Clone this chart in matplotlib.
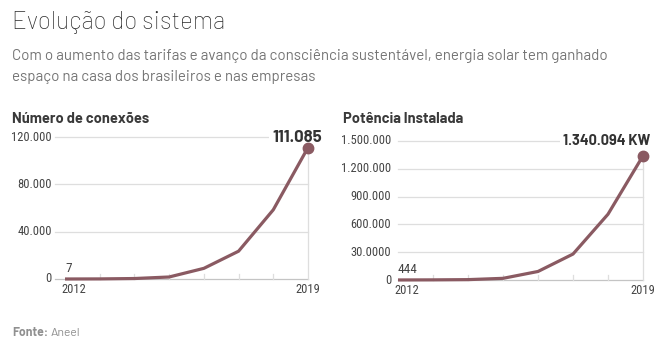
import matplotlib
matplotlib.use("Agg")
import matplotlib.pyplot as plt

years = [2012, 2013, 2014, 2015, 2016, 2017, 2018, 2019]
conexoes = [7, 80, 400, 1700, 9000, 23500, 58500, 111085]
potencia = [444, 1500, 4000, 18000, 92000, 280000, 710000, 1340094]

left_ticks = [0, 40000, 80000, 120000]
left_ticklabels = ["0", "40.000", "80.000", "120.000"]
right_ticks = [0, 300000, 600000, 900000, 1200000, 1500000]
right_ticklabels = ["0", "30.0000", "600.000", "900.000", "1.200.000", "1.500.000"]

COND = ["Roboto Condensed", "DejaVu Sans"]
MAIN = ["Barlow", "Roboto", "DejaVu Sans"]
BOLD = ["Barlow", "Roboto", "DejaVu Sans"]
plt.rcParams['font.family'] = COND

W, H = 668, 347
fig = plt.figure(figsize=(W / 100, H / 100), dpi=100)
fig.patch.set_facecolor("white")

def P(x, y):
    return x / W, 1 - y / H

LINE = "#8a5a62"
GRID = "#dedede"
TXT = "#444444"

fig.text(*P(12, 29), "Evolução do sistema", fontsize=17.5, color="#2b2b2b",
         va="baseline", ha="left", fontweight="light", family=MAIN)
fig.text(*P(12, 60), "Com o aumento das tarifas e avanço da consciência sustentável, energia solar tem ganhado",
         fontsize=10.85, color="#747474", va="baseline", ha="left", family=MAIN)
fig.text(*P(12, 81), "espaço na casa dos brasileiros e nas empresas",
         fontsize=10.85, color="#747474", va="baseline", ha="left", family=MAIN)

fig.text(*P(12, 123), "Número de conexões", fontsize=10.5, color="#3a3a3a",
         fontweight="bold", va="baseline", ha="left", family=BOLD)
fig.text(*P(343, 123), "Potência Instalada", fontsize=10.5, color="#3a3a3a",
         fontweight="bold", va="baseline", ha="left", family=BOLD)

fig.text(*P(12, 336), "Fonte:", fontsize=8.8, color="#909090",
         fontweight="bold", va="baseline", ha="left", family=BOLD)
fig.text(*P(51, 336), "Aneel", fontsize=8.8, color="#909090", va="baseline", ha="left",
         family=BOLD)


def panel(x0, x1, y0, y1, vals, ticks, ticklabels, ymax, first_label, last_label,
          grid_start, label_x, last_size, last_dx):
    l, b = P(x0, y0)
    r, t_ = P(x1, y1)
    ax = fig.add_axes([l, b, r - l, t_ - b])
    ax.set_xlim(years[0], years[-1])
    ax.set_ylim(0, ymax)
    ax.axis("off")
    for tk, lab in zip(ticks, ticklabels):
        ax.plot([grid_start, years[-1]], [tk, tk], color=GRID if tk else "#c4c4c4",
                lw=0.9, clip_on=False, zorder=1)
        ax.text(label_x, tk, lab, fontsize=9, color=TXT, ha="right",
                va="center", clip_on=False)
    tick_h = ymax * 0.035
    for yr in years[1:-1]:
        ax.plot([yr, yr], [0, tick_h], color=GRID, lw=0.9, clip_on=False, zorder=1)
    ax.plot([years[-1], years[-1]], [0, vals[-1]], color=GRID, lw=0.9, clip_on=False, zorder=1)
    ax.plot(years, vals, color=LINE, lw=2.3, clip_on=False, zorder=3, solid_capstyle="butt")
    ax.text(years[-1] + last_dx, ymax * 1.0, last_label, fontsize=last_size, color="#333333",
            fontweight="bold", ha="right", va="center", clip_on=False, zorder=4,
            family=BOLD, bbox=dict(facecolor="white", edgecolor="none", pad=2))
    ax.plot([years[-1]], [vals[-1]], "o", color=LINE, ms=7.5, clip_on=False, zorder=6)
    ax.text(years[0], vals[0] + ymax * 0.025, first_label, fontsize=9.5, color=TXT,
            ha="left", va="bottom", clip_on=False)
    ax.text(years[0] - 0.1, -ymax * 0.075, str(years[0]), fontsize=9, color=TXT,
            ha="left", va="center", clip_on=False)
    ax.text(years[-1], -ymax * 0.075, str(years[-1]), fontsize=9, color=TXT,
            ha="center", va="center", clip_on=False)
    return ax


panel(65, 308, 279, 137, conexoes, left_ticks, left_ticklabels, 120000,
      f"{conexoes[0]}", "111.085", 2011.7, 2011.62, 12.0, 0.4)
panel(398, 643, 280, 141, potencia, right_ticks, right_ticklabels, 1500000,
      f"{potencia[0]}", "1.340.094 KW", 2012.0, 2011.8, 10.5, 0.2)

fig.savefig("out.png", dpi=100, facecolor="white")
